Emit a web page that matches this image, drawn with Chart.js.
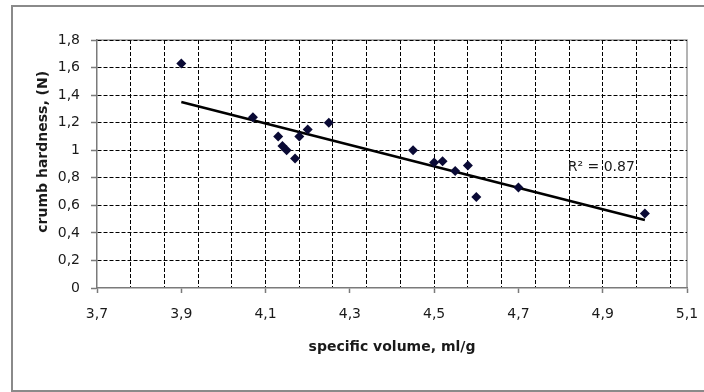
<!DOCTYPE html>
<html>
<head>
<meta charset="utf-8">
<script src="https://cdn.jsdelivr.net/npm/chart.js@4.4.1/dist/chart.umd.min.js"></script>
<style>
  html, body { margin: 0; padding: 0; background: #fff; overflow: hidden; }
  #wrap { position: relative; width: 704px; height: 392px; }
  #frame { position: absolute; left: 11px; top: 5px; width: 720px; height: 383px; border: 2px solid #8a8a8a; box-sizing: content-box; pointer-events: none; }
  canvas { position: absolute; left: 0; top: 0; }
</style>
</head>
<body>
<div id="wrap">
  <div id="frame"></div>
  <canvas id="c" width="704" height="392"></canvas>
</div>
<script>
// ---- data ----
const specificVolume = [3.90, 4.07, 4.13, 4.14, 4.15, 4.17, 4.18, 4.20, 4.25, 4.45, 4.50, 4.52, 4.55, 4.58, 4.60, 4.70, 5.00];
const crumbHardness  = [1.63, 1.24, 1.10, 1.03, 1.00, 0.94, 1.10, 1.15, 1.20, 1.00, 0.91, 0.92, 0.85, 0.89, 0.66, 0.73, 0.54];
const xTicks = [3.7, 3.9, 4.1, 4.3, 4.5, 4.7, 4.9, 5.1];
const yTicks = [0, 0.2, 0.4, 0.6, 0.8, 1.0, 1.2, 1.4, 1.6, 1.8];
const xGridValues = [3.78, 3.86, 3.94, 4.02, 4.10, 4.18, 4.26, 4.34, 4.42, 4.50, 4.58, 4.66, 4.74, 4.82, 4.90, 4.98, 5.06];
const r2Text = 'R² = 0.87';
const xTitle = 'specific volume, ml/g';
const yTitle = 'crumb hardness, (N)';

// linear regression trendline from the data
function regression(xs, ys) {
  const n = xs.length;
  const mx = xs.reduce((a, b) => a + b, 0) / n;
  const my = ys.reduce((a, b) => a + b, 0) / n;
  let sxy = 0, sxx = 0;
  for (let i = 0; i < n; i++) { sxy += (xs[i] - mx) * (ys[i] - my); sxx += (xs[i] - mx) ** 2; }
  const slope = sxy / sxx;
  return { slope, intercept: my - slope * mx };
}
const reg = regression(specificVolume, crumbHardness);
const xMinData = Math.min(...specificVolume), xMaxData = Math.max(...specificVolume);
const trendPoints = [xMinData, xMaxData].map(x => ({ x, y: reg.intercept + reg.slope * x }));

const points = specificVolume.map((x, i) => ({ x, y: crumbHardness[i] }));
const fmt = v => Number(v.toFixed(1)).toString().replace('.', ',');
const FONT = "'DejaVu Sans', sans-serif";

const plotFrame = {
  id: 'plotFrame',
  beforeDraw(chart) {
    const { ctx, chartArea: a } = chart;
    ctx.save();
    ctx.strokeStyle = '#9a9a9a';
    ctx.lineWidth = 1.5;
    ctx.beginPath();
    ctx.moveTo(a.left, a.top);
    ctx.lineTo(a.right, a.top);
    ctx.lineTo(a.right, a.bottom);
    ctx.stroke();
    ctx.restore();
  }
};
const r2Label = {
  id: 'r2Label',
  afterDatasetsDraw(chart) {
    const { ctx, scales } = chart;
    const px = scales.x.getPixelForValue(4.817);
    const py = scales.y.getPixelForValue(0.872);
    ctx.save();
    ctx.font = '14px ' + FONT;
    ctx.fillStyle = '#1a1a1a';
    ctx.textAlign = 'left';
    ctx.textBaseline = 'middle';
    ctx.fillText(r2Text, px, py);
    ctx.restore();
  }
};

new Chart(document.getElementById('c'), {
  type: 'scatter',
  data: {
    datasets: [
      {
        label: 'data',
        data: points,
        pointStyle: 'rectRot',
        pointRadius: 5,
        pointHoverRadius: 5,
        backgroundColor: '#0a0a35',
        borderColor: '#0a0a35',
        borderWidth: 0,
        order: 1
      },
      {
        label: 'trend',
        data: trendPoints,
        showLine: true,
        pointRadius: 0,
        borderColor: '#000',
        borderWidth: 2.5,
        fill: false,
        order: 2
      }
    ]
  },
  options: {
    responsive: false,
    animation: false,
    events: [],
    layout: { padding: { left: 0, right: 17, top: 40, bottom: 0 } },
    plugins: { legend: { display: false }, tooltip: { enabled: false } },
    scales: {
      x: {
        type: 'linear',
        position: 'bottom',
        min: 3.7, max: 5.1,
        afterBuildTicks: s => { s.ticks = xTicks.map(v => ({ value: v })); },
        afterFit: s => { s.height = 104; s.paddingLeft = 0; s.paddingRight = 0; },
        ticks: { callback: v => fmt(v), color: '#1a1a1a', font: { family: FONT, size: 14 }, padding: 13, maxRotation: 0, autoSkip: false },
        grid: { drawOnChartArea: false, drawTicks: true, tickLength: 5, tickColor: '#7a7a7a', tickWidth: 1.5 },
        border: { display: true, color: '#7a7a7a', width: 1.5 },
        title: { display: true, text: xTitle, color: '#1a1a1a', font: { family: FONT, size: 14, weight: 'bold' }, padding: { top: 0, bottom: 36 } }
      },
      xg: {
        type: 'linear',
        position: 'bottom',
        min: 3.7, max: 5.1,
        afterBuildTicks: s => { s.ticks = xGridValues.map(v => ({ value: v })); },
        afterFit: s => { s.height = 0; s.paddingLeft = 0; s.paddingRight = 0; },
        ticks: { display: false },
        grid: { drawOnChartArea: true, drawTicks: false, color: '#000', lineWidth: 1 },
        border: { display: false, dash: [4, 2] }
      },
      y: {
        type: 'linear',
        min: 0, max: 1.8,
        afterBuildTicks: s => { s.ticks = yTicks.map(v => ({ value: v })); },
        afterFit: s => { s.width = 97; s.paddingTop = 0; s.paddingBottom = 0; },
        ticks: { callback: v => fmt(v), color: '#1a1a1a', font: { family: FONT, size: 14 }, padding: 11 },
        grid: {
          drawOnChartArea: true, drawTicks: true, tickLength: 6,
          color: ctx => (ctx.tick && ctx.tick.value === 0 ? 'rgba(0,0,0,0)' : '#000'),
          lineWidth: 1, tickColor: '#7a7a7a', tickWidth: 1.5
        },
        border: { display: true, color: '#7a7a7a', width: 1.5, dash: [4, 2] },
        title: { display: true, text: '     ' + yTitle, color: '#1a1a1a', font: { family: FONT, size: 14, weight: 'bold' }, padding: { top: 35, bottom: 0 } }
      }
    }
  },
  plugins: [plotFrame, r2Label]
});
</script>
</body>
</html>
